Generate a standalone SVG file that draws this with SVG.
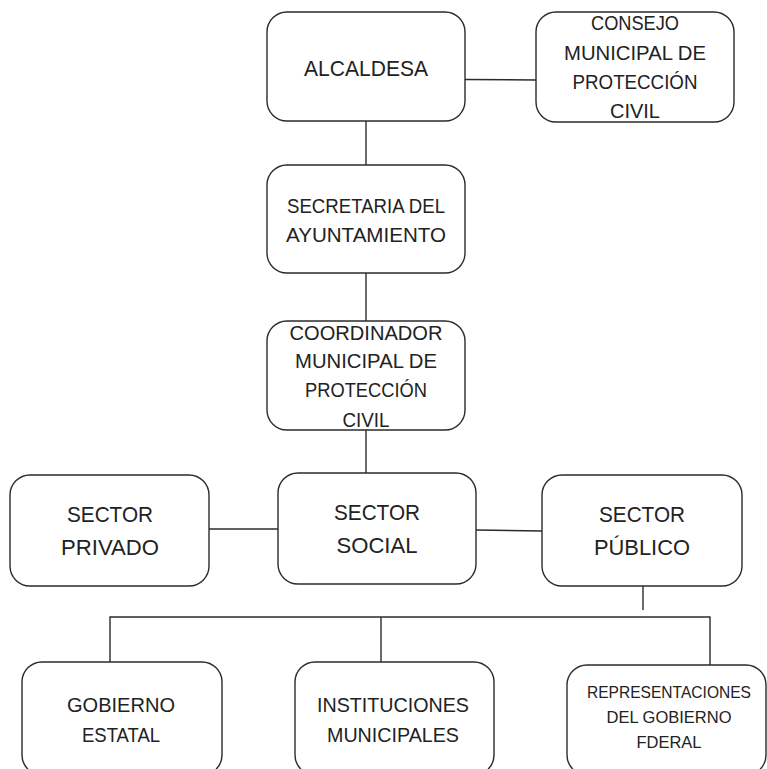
<svg xmlns="http://www.w3.org/2000/svg" width="767" height="769" viewBox="0 0 767 769">
<style>
.box{fill:#fff;stroke:#2b2b2b;stroke-width:1.4}
.ln{stroke:#2b2b2b;stroke-width:1.4;fill:none}
text{font-family:"Liberation Sans",Arial,sans-serif;fill:#222;text-anchor:middle}
</style>
<rect width="767" height="769" fill="#fff"/>
<g id="connectors">
<line class="ln" x1="465" y1="79.5" x2="536" y2="80"/>
<line class="ln" x1="366" y1="121" x2="366" y2="165"/>
<line class="ln" x1="366" y1="273" x2="366" y2="321"/>
<line class="ln" x1="366" y1="430" x2="366" y2="474"/>
<line class="ln" x1="209" y1="529" x2="278" y2="529"/>
<line class="ln" x1="476" y1="530" x2="542" y2="531"/>
<line class="ln" x1="643" y1="586" x2="643" y2="610"/>
<polyline class="ln" points="110,662 110,617 710,617 710,665"/>
<line class="ln" x1="381" y1="617" x2="381" y2="662"/>
</g>
<g id="alcaldesa">
<rect class="box" x="267" y="12" width="198" height="109" rx="20"/>
<text x="366" y="76" font-size="22" textLength="124" lengthAdjust="spacingAndGlyphs">ALCALDESA</text>
</g>
<g id="consejo">
<rect class="box" x="536" y="12" width="198" height="110" rx="20"/>
<text x="635" y="30" font-size="21" textLength="88" lengthAdjust="spacingAndGlyphs">CONSEJO</text>
<text x="635" y="60" font-size="21" textLength="142" lengthAdjust="spacingAndGlyphs">MUNICIPAL DE</text>
<text x="635" y="89" font-size="21" textLength="125" lengthAdjust="spacingAndGlyphs">PROTECCIÓN</text>
<text x="635" y="118" font-size="21" textLength="50" lengthAdjust="spacingAndGlyphs">CIVIL</text>
</g>
<g id="secretaria">
<rect class="box" x="267" y="165" width="198" height="108" rx="20"/>
<text x="366" y="213" font-size="21" textLength="158" lengthAdjust="spacingAndGlyphs">SECRETARIA DEL</text>
<text x="366" y="242" font-size="21" textLength="160" lengthAdjust="spacingAndGlyphs">AYUNTAMIENTO</text>
</g>
<g id="coordinador">
<rect class="box" x="267" y="321" width="198" height="109" rx="20"/>
<text x="366" y="340" font-size="21" textLength="153" lengthAdjust="spacingAndGlyphs">COORDINADOR</text>
<text x="366" y="368" font-size="21" textLength="142" lengthAdjust="spacingAndGlyphs">MUNICIPAL DE</text>
<text x="366" y="397" font-size="21" textLength="122" lengthAdjust="spacingAndGlyphs">PROTECCIÓN</text>
<text x="366" y="427" font-size="21" textLength="47" lengthAdjust="spacingAndGlyphs">CIVIL</text>
</g>
<g id="sector-privado">
<rect class="box" x="10" y="475" width="199" height="111" rx="20"/>
<text x="110" y="522" font-size="22" textLength="86" lengthAdjust="spacingAndGlyphs">SECTOR</text>
<text x="110" y="555" font-size="22" textLength="98" lengthAdjust="spacingAndGlyphs">PRIVADO</text>
</g>
<g id="sector-social">
<rect class="box" x="278" y="473" width="198" height="111" rx="20"/>
<text x="377" y="520" font-size="22" textLength="86" lengthAdjust="spacingAndGlyphs">SECTOR</text>
<text x="377" y="553" font-size="22" textLength="81" lengthAdjust="spacingAndGlyphs">SOCIAL</text>
</g>
<g id="sector-publico">
<rect class="box" x="542" y="475" width="200" height="111" rx="20"/>
<text x="642" y="522" font-size="22" textLength="86" lengthAdjust="spacingAndGlyphs">SECTOR</text>
<text x="642" y="555" font-size="22" textLength="96" lengthAdjust="spacingAndGlyphs">PÚBLICO</text>
</g>
<g id="gobierno-estatal">
<rect class="box" x="22" y="662" width="200" height="113" rx="20"/>
<text x="121" y="712" font-size="21" textLength="108" lengthAdjust="spacingAndGlyphs">GOBIERNO</text>
<text x="121" y="742" font-size="21" textLength="78" lengthAdjust="spacingAndGlyphs">ESTATAL</text>
</g>
<g id="instituciones">
<rect class="box" x="295" y="662" width="199" height="113" rx="20"/>
<text x="393" y="712" font-size="21" textLength="152" lengthAdjust="spacingAndGlyphs">INSTITUCIONES</text>
<text x="393" y="742" font-size="21" textLength="132" lengthAdjust="spacingAndGlyphs">MUNICIPALES</text>
</g>
<g id="representaciones">
<rect class="box" x="567" y="665" width="199" height="110" rx="20"/>
<text x="669" y="698" font-size="17" textLength="164" lengthAdjust="spacingAndGlyphs">REPRESENTACIONES</text>
<text x="669" y="723" font-size="17" textLength="125" lengthAdjust="spacingAndGlyphs">DEL GOBIERNO</text>
<text x="669" y="748" font-size="17" textLength="65" lengthAdjust="spacingAndGlyphs">FDERAL</text>
</g>
</svg>
